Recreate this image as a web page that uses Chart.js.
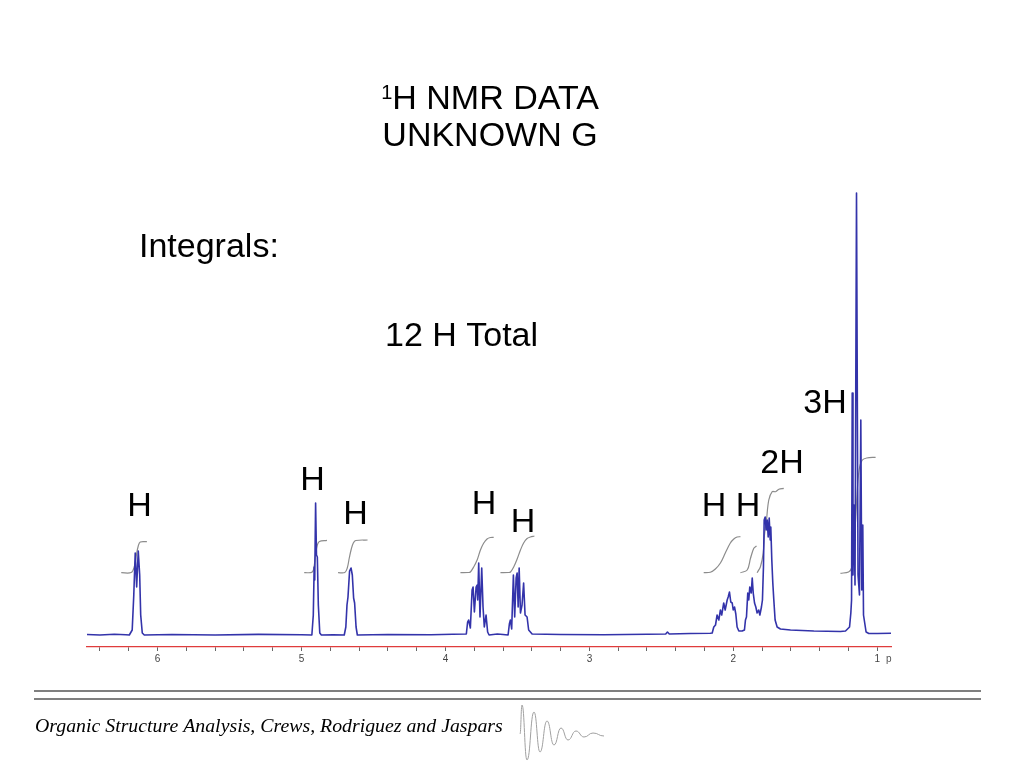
<!DOCTYPE html>
<html>
<head>
<meta charset="utf-8">
<title>1H NMR DATA - UNKNOWN G</title>
<script src="https://cdn.jsdelivr.net/npm/chart.js@4/dist/chart.umd.min.js"></script>
<style>
  html, body { margin: 0; padding: 0; background: #fff; }
  #nmr { display: block; }
</style>
</head>
<body>
<canvas id="nmr" width="1024" height="768"></canvas>
<script>
// ppm range shown on the spectrum (axis is reversed, high ppm on the left)
const ppmMin = 0.905;
const ppmMax = 6.49;
const tickStep = 0.2;

// spectrum, [ppm, intensity], high ppm -> low ppm
const baseA   = [[6.49, 0.5], [6.40, 0], [6.30, 0.8], [6.22, 0.3]];
const peak615 = [[6.196, 0], [6.176, 5], [6.165, 40], [6.155, 82], [6.145, 48], [6.134, 84], [6.124, 60], [6.117, 20], [6.106, 2], [6.092, 0]];
const baseB   = [[5.90, 0.5], [5.60, 0], [5.30, 0.6], [5.00, 0.3]];
const peak490 = [[4.928, 0], [4.918, 20], [4.912, 68], [4.908, 55], [4.902, 132], [4.896, 80], [4.890, 78], [4.883, 30], [4.873, 2], [4.862, 0], [4.78, 0.3]];
const peak466 = [[4.703, 0], [4.692, 8], [4.684, 30], [4.677, 38], [4.666, 64], [4.656, 67], [4.647, 60], [4.638, 37], [4.631, 32], [4.621, 8], [4.612, 0]];
const baseC   = [[4.40, 0.5], [4.10, 0.2], [3.95, 0.8]];
const peak378 = [[3.855, 1], [3.846, 13], [3.839, 15], [3.827, 7], [3.815, 45], [3.808, 48], [3.799, 23], [3.787, 48], [3.780, 50], [3.776, 35], [3.769, 72], [3.760, 18], [3.748, 67], [3.739, 28], [3.730, 8], [3.718, 20], [3.707, 3], [3.697, 0], [3.64, 1], [3.60, 0.5]];
const peak350 = [[3.565, 0], [3.556, 11], [3.549, 15], [3.540, 6], [3.528, 60], [3.519, 18], [3.509, 57], [3.502, 62], [3.495, 28], [3.488, 67], [3.479, 22], [3.468, 30], [3.457, 52], [3.447, 20], [3.433, 18], [3.422, 5], [3.398, 1]];
const baseD   = [[3.20, 0.5], [2.90, 0.2], [2.60, 0.8], [2.47, 1], [2.458, 3], [2.445, 1], [2.30, 1.5], [2.16, 1.7]];
const peak205 = [[2.147, 2], [2.136, 8], [2.124, 10], [2.113, 20], [2.101, 15], [2.090, 25], [2.081, 20], [2.067, 32], [2.057, 25], [2.043, 35], [2.036, 38], [2.027, 43], [2.018, 33], [2.008, 32], [2.001, 25], [1.992, 28], [1.983, 21], [1.974, 8], [1.962, 4], [1.939, 4], [1.923, 5]];
const peak188 = [[1.916, 15], [1.909, 18], [1.900, 42], [1.893, 35], [1.886, 48], [1.876, 42], [1.869, 57], [1.862, 42], [1.853, 32], [1.844, 28], [1.835, 22], [1.824, 25], [1.816, 20], [1.805, 28], [1.798, 35]];
const peak176 = [[1.791, 68], [1.786, 115], [1.779, 118], [1.772, 105], [1.765, 115], [1.758, 98], [1.751, 117], [1.744, 95], [1.740, 108], [1.733, 75], [1.726, 52], [1.719, 35], [1.710, 15], [1.696, 8], [1.673, 6], [1.603, 5], [1.441, 4], [1.256, 3.5]];
const peak115 = [[1.221, 4], [1.193, 8], [1.184, 22], [1.179, 35], [1.1744, 242], [1.169, 60], [1.162, 130], [1.155, 50], [1.1446, 442], [1.134, 60], [1.124, 40], [1.1147, 215], [1.108, 45], [1.101, 110], [1.096, 20], [1.078, 3], [1.059, 1.5]];
const baseE   = [[1.00, 1.5], [0.905, 1.7]];

// integral traces, [ppm, level]
const int615 = [[6.252, 62.3], [6.183, 62.5], [6.162, 68], [6.148, 79], [6.134, 89], [6.120, 93], [6.074, 93.3]];
const int490 = [[4.981, 62.3], [4.925, 63], [4.911, 70], [4.901, 82], [4.890, 90], [4.876, 93.5], [4.823, 94.7]];
const int466 = [[4.746, 62.3], [4.699, 62.5], [4.682, 67], [4.668, 77], [4.654, 86], [4.640, 92], [4.623, 94.5], [4.541, 95]];
const int378 = [[3.896, 62.3], [3.841, 62.5], [3.827, 63], [3.804, 68], [3.780, 75], [3.757, 85], [3.735, 91.7], [3.711, 96], [3.688, 97.5], [3.665, 97.7]];
const int350 = [[3.618, 62.3], [3.562, 62.5], [3.548, 63], [3.526, 68], [3.502, 76], [3.479, 85], [3.457, 92], [3.433, 96.5], [3.410, 98], [3.382, 99]];
const int205 = [[2.206, 62.3], [2.160, 62.8], [2.125, 66], [2.090, 72], [2.056, 82], [2.021, 92], [1.997, 96], [1.974, 98], [1.951, 98.3]];
const int188 = [[1.951, 62.3], [1.904, 65], [1.881, 76.7], [1.858, 86.7], [1.839, 89]];
const int176 = [[1.835, 62.3], [1.812, 68.3], [1.793, 81.7], [1.784, 100], [1.770, 115], [1.754, 135], [1.730, 143.3], [1.707, 143.3], [1.684, 145.7], [1.650, 146.7]];
const int115 = [[1.256, 61.7], [1.200, 63], [1.179, 67], [1.165, 85], [1.151, 115], [1.137, 150], [1.123, 168], [1.104, 175], [1.074, 177], [1.012, 177.7]];

const spectrumParts = [baseA, peak615, baseB, peak490, peak466, baseC, peak378, peak350, baseD, peak205, peak188, peak176, peak115, baseE];
const integralParts = [int615, int490, int466, int378, int350, int205, int188, int176, int115];

const toPoints = arr => arr.map(p => ({ x: p[0], y: p[1] }));

// slide text drawn on top of the chart
const slideText = {
  id: 'slideText',
  afterDraw(chart) {
    const c = chart.ctx;
    c.save();
    c.fillStyle = '#000';
    c.textBaseline = 'alphabetic';

    // title with superscript 1
    const big = '34px "Liberation Sans", Arial, sans-serif';
    const sup = '20px "Liberation Sans", Arial, sans-serif';
    c.font = sup;
    const w1 = c.measureText('1').width;
    c.font = big;
    const w2 = c.measureText('H NMR DATA').width;
    let x0 = 490 - (w1 + w2) / 2;
    c.textAlign = 'left';
    c.font = sup;
    c.fillText('1', x0, 99);
    c.font = big;
    c.fillText('H NMR DATA', x0 + w1, 109);
    c.textAlign = 'center';
    c.fillText('UNKNOWN G', 490, 146);

    c.textAlign = 'left';
    c.fillText('Integrals:', 139, 257);
    c.fillText('12 H Total', 385, 346);

    // integral labels
    c.textAlign = 'center';
    [['H', 139.5, 516], ['H', 312.5, 490], ['H', 355.5, 524], ['H', 484, 514],
     ['H', 523, 532], ['H H', 731, 516], ['2H', 782, 473], ['3H', 825, 413]]
      .forEach(l => c.fillText(l[0], l[1], l[2]));

    // cut-off axis unit
    c.textAlign = 'left';
    c.textBaseline = 'middle';
    c.fillStyle = '#555';
    c.font = '10px "Liberation Sans", Arial, sans-serif';
    c.fillText('p', 886, 659);

    // footer rules
    c.strokeStyle = '#555';
    c.lineWidth = 1.5;
    c.beginPath();
    c.moveTo(34, 691); c.lineTo(981, 691);
    c.moveTo(34, 699); c.lineTo(981, 699);
    c.stroke();

    // footer citation
    const cite = 'Organic Structure Analysis, Crews, Rodriguez and Jaspars';
    c.font = 'italic 20px "Liberation Serif", "Times New Roman", serif';
    const fs = 20 * 468 / c.measureText(cite).width;
    c.font = 'italic ' + fs.toFixed(2) + 'px "Liberation Serif", "Times New Roman", serif';
    c.fillStyle = '#000';
    c.textBaseline = 'alphabetic';
    c.fillText(cite, 35, 732);

    // little FID logo (smooth wave through its turning points)
    c.strokeStyle = '#a0a0a0';
    c.lineWidth = 1;
    c.beginPath();
    const fid = [[520, 734], [522, 705], [527, 760], [534, 712], [540, 752], [547, 721], [554, 745], [561, 728], [568, 740], [576, 731], [584, 737], [593, 733], [604, 736]];
    c.moveTo(fid[0][0], fid[0][1]);
    for (let i = 1; i < fid.length; i++) {
      const a = fid[i - 1], b = fid[i], dx = (b[0] - a[0]) / 2;
      c.bezierCurveTo(a[0] + dx, a[1], b[0] - dx, b[1], b[0], b[1]);
    }
    c.stroke();
    c.restore();
  }
};

function createChart(ctx) {
  const datasets = [{
    data: toPoints(spectrumParts.flat()),
    showLine: true,
    borderColor: '#3333aa',
    borderWidth: 1.6,
    borderJoinStyle: 'round',
    pointRadius: 0,
    tension: 0,
    order: 1
  }];
  integralParts.forEach(part => {
    datasets.push({
      data: toPoints(part),
      showLine: true,
      borderColor: '#8c8c8c',
      borderWidth: 1.2,
      pointRadius: 0,
      tension: 0.35,
      order: 2
    });
  });

  return new Chart(ctx, {
    type: 'scatter',
    data: { datasets: datasets },
    options: {
      responsive: false,
      animation: false,
      events: [],
      layout: { padding: { left: 87, right: 133, top: 185, bottom: 91 } },
      plugins: { legend: { display: false }, tooltip: { enabled: false } },
      scales: {
        x: {
          type: 'linear',
          reverse: true,
          min: ppmMin,
          max: ppmMax,
          afterFit: scale => { scale.height = 30; },
          grid: { drawOnChartArea: false, drawTicks: true, tickLength: 4, tickColor: '#666', tickWidth: 1 },
          border: { display: true, color: '#e03c3c', width: 1.3, z: 1 },
          ticks: {
            stepSize: tickStep,
            includeBounds: false,
            autoSkip: false,
            maxRotation: 0,
            padding: 2,
            color: '#444',
            font: { family: '"Liberation Sans", Arial, sans-serif', size: 10 },
            callback: v => Math.abs(v - Math.round(v)) < 1e-6 ? String(Math.round(v)) : ''
          }
        },
        y: { display: false, min: -12, max: 450 }
      }
    },
    plugins: [slideText]
  });
}

window.addEventListener('DOMContentLoaded', () => {
  createChart(document.getElementById('nmr').getContext('2d'));
});
</script>
</body>
</html>
